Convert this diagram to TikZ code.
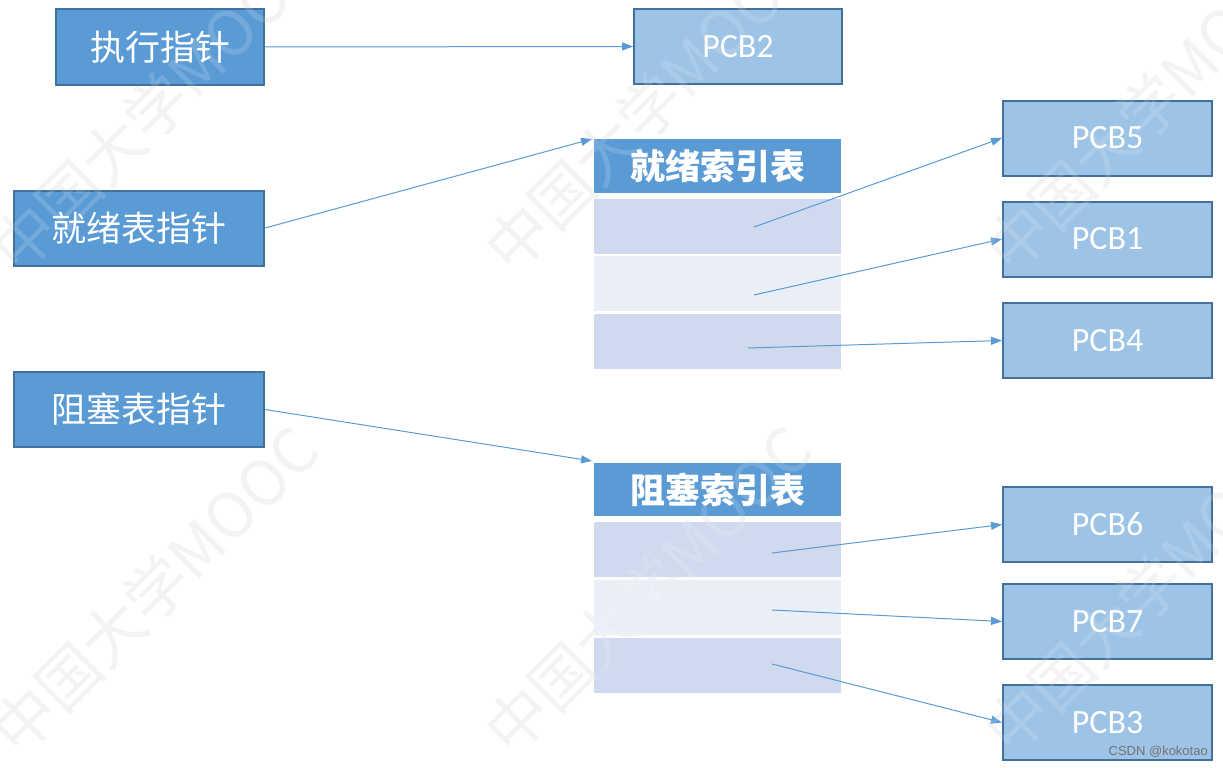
\documentclass[tikz,border=0pt]{standalone}
\usepackage{fontspec}
\setmainfont{Carlito}
\newfontfamily\cjk{Noto Sans CJK SC}
\newfontfamily\csdnfont{Liberation Sans}
\usetikzlibrary{arrows.meta}
\definecolor{boxblue}{HTML}{5B9BD5}
\definecolor{boxedge}{HTML}{41719C}
\definecolor{pcbblue}{HTML}{9DC3E6}
\definecolor{rowa}{HTML}{CFDAEE}
\definecolor{rowb}{HTML}{E9EEF7}
\tikzset{
  ptrbox/.style={draw=boxedge, line width=2pt, fill=boxblue, text=white, inner sep=0pt,
    minimum height=75pt, font=\cjk\fontsize{35}{40}\selectfont},
  pcbbox/.style={draw=boxedge, line width=2pt, fill=pcbblue, text=white, inner sep=0pt,
    minimum width=209pt, minimum height=75pt, font=\fontsize{34}{40}\selectfont},
  tabhead/.style={fill=boxblue, text=white, inner sep=0pt, minimum width=247pt,
    minimum height=54pt, font=\cjk\bfseries\fontsize{35}{40}\selectfont},
  rowA/.style={fill=rowa, inner sep=0pt, minimum width=247pt, minimum height=55pt},
  rowB/.style={fill=rowb, inner sep=0pt, minimum width=247pt, minimum height=55pt},
  link/.style={draw=boxblue, line width=1pt, -{Triangle[length=11pt,width=8pt]}},
  wmark/.style={rotate=45, font=\cjk\fontsize{62}{70}\selectfont, inner sep=0pt}
}
\begin{document}
\begin{tikzpicture}[x=1pt,y=-1pt]
\useasboundingbox[fill=white] (0,0) rectangle (1223,768);
% watermark (under)
\foreach \wx/\wy [count=\i] in {155/108, 648/108, 1148/108, 155/590, 648/590, 1148/590}{
  \node[wmark, text=black!5] (wa\i) at (\wx,\wy) {中国大学MOOC};
}
% pointer boxes
\node[ptrbox, minimum width=208pt] (exec) at (160,47) {执行指针};
\node[ptrbox, minimum width=250pt] (ready) at (139,228) {就绪表指针};
\node[ptrbox, minimum width=250pt] (block) at (139,409.5) {阻塞表指针};
% PCB2
\node[pcbbox, minimum width=208pt] (pcb2) at (738,46.5) {PCB2};
% ready table
\node[tabhead] (h1) at (717.5,166) {就绪索引表};
\node[rowA] (r1) at (717.5,226) {};
\node[rowB] (r2) at (717.5,283) {};
\node[rowA] (r3) at (717.5,341.5) {};
% blocked table
\node[tabhead, minimum height=53pt] (h2) at (717.5,489.5) {阻塞索引表};
\node[rowA] (b1) at (717.5,549.5) {};
\node[rowB] (b2) at (717.5,607.5) {};
\node[rowA] (b3) at (717.5,665.5) {};
% PCBs
\node[pcbbox] (pcb5) at (1107.5,138) {PCB5};
\node[pcbbox] (pcb1) at (1107.5,239) {PCB1};
\node[pcbbox] (pcb4) at (1107.5,340.5) {PCB4};
\node[pcbbox] (pcb6) at (1107.5,524.5) {PCB6};
\node[pcbbox] (pcb7) at (1107.5,621.5) {PCB7};
\node[pcbbox] (pcb3) at (1107.5,722.5) {PCB3};
% connector starts inside rows
\coordinate (s1) at (754,227);
\coordinate (s2) at (754,295);
\coordinate (s3) at (748,348);
\coordinate (t1) at (772,553);
\coordinate (t2) at (772,610);
\coordinate (t3) at (772,664);
\coordinate (e1) at (592,139);
\coordinate (e2) at (592,461);
% connectors
\draw[link] (exec.east) -- (pcb2.west);
\draw[link] (ready.east) -- (e1);
\draw[link] (block.east) -- (e2);
\draw[link] (s1) -- (pcb5.west);
\draw[link] (s2) -- (pcb1.west);
\draw[link] (s3) -- (pcb4.west);
\draw[link] (t1) -- (pcb6.west);
\draw[link] (t2) -- (pcb7.west);
\draw[link] (t3) -- (pcb3.west);
% watermark (over, lightening)
\foreach \wx/\wy [count=\i] in {155/108, 648/108, 1148/108, 155/590, 648/590, 1148/590}{
  \node[wmark, text=white, text opacity=0.15] (wb\i) at (\wx,\wy) {中国大学MOOC};
}
\node[font=\csdnfont\fontsize{13}{15}\selectfont, text=black!55, anchor=east, inner sep=0pt] (csdn) at (1208,752) {CSDN @kokotao};
\end{tikzpicture}
\end{document}
